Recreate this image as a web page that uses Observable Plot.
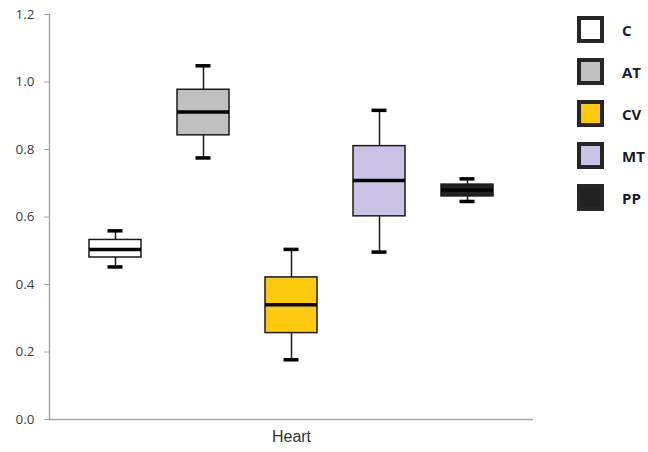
<!DOCTYPE html>
<html>
<head>
<meta charset="utf-8">
<script src="https://cdn.jsdelivr.net/npm/d3@7"></script>
<script src="https://cdn.jsdelivr.net/npm/@observablehq/plot@0.6"></script>
<style>
  html, body { margin: 0; padding: 0; background: #fff; }
  #wrap { position: relative; width: 648px; height: 452px; }
  #legend { position: absolute; left: 577px; top: 16px; display: flex; flex-direction: column; gap: 15px; }
  .item { display: flex; align-items: center; height: 27px; }
  .sw { width: 19px; height: 19px; border: 4px solid #262626; box-sizing: content-box; }
  .lab { margin-left: 18px; font: bold 15px "Open Sans", "Liberation Sans", sans-serif; color: #1a1a30; }
</style>
</head>
<body>
<div id="wrap"><div id="legend"></div></div>
<script>
const organ = "Heart";
const groups = ["C", "AT", "CV", "MT", "PP"];
const whiskerLow  = [0.452, 0.775, 0.177, 0.496, 0.646];
const q1          = [0.480, 0.842, 0.256, 0.602, 0.661];
const median      = [0.504, 0.911, 0.340, 0.708, 0.680];
const q3          = [0.532, 0.977, 0.421, 0.810, 0.696];
const whiskerHigh = [0.559, 1.048, 0.504, 0.916, 0.713];
const fills = ["#ffffff", "#c0c0c0", "#ffc90e", "#cbc3e6", "#222222"];
const yTicks = [0, 0.2, 0.4, 0.6, 0.8, 1.0, 1.2];

const data = groups.map((g, i) => ({
  organ, group: g,
  lo: whiskerLow[i], q1: q1[i], med: median[i], q3: q3[i], hi: whiskerHigh[i]
}));

const plot = Plot.plot({
  width: 648,
  height: 452,
  marginLeft: 49,
  marginRight: 115,
  marginTop: 14,
  marginBottom: 33,
  style: { fontFamily: "'Open Sans', 'Liberation Sans', sans-serif", background: "#fff" },
  fx: { domain: [organ], padding: 0, label: null },
  x: { domain: groups, paddingInner: 0.414, paddingOuter: 0.44, axis: null },
  y: { domain: [0, 1.2] },
  color: { domain: groups, range: fills },
  marks: [
    Plot.frame({ anchor: "left", stroke: "#a6a6a6", strokeWidth: 1.5 }),
    Plot.ruleY([0], { stroke: "#a6a6a6", strokeWidth: 1.5 }),
    Plot.axisY({ ticks: yTicks, tickFormat: d => d.toFixed(1), tickSize: 5, tickPadding: 10,
      stroke: "#a6a6a6", fill: "#3c3c3c", fontSize: 13.5, label: null }),
    Plot.axisFx({ anchor: "bottom", tickSize: 0, tickPadding: 11, fontSize: 16,
      fill: "#333", fontFamily: "'Liberation Sans', Arial, sans-serif", label: null }),
    Plot.ruleX(data, { fx: "organ", x: "group", y1: "lo", y2: "hi", stroke: "#1a1a1a", strokeWidth: 1.5 }),
    Plot.barY(data, { fx: "organ", x: "group", y1: "q1", y2: "q3", fill: "group", stroke: "#1a1a1a", strokeWidth: 1.5 }),
    Plot.tickY(data, { fx: "organ", x: "group", y: "med", stroke: "#000", strokeWidth: 3.5 }),
    Plot.tickY(data, { fx: "organ", x: "group", y: "lo", stroke: "#000", strokeWidth: 3.5, insetLeft: 18.5, insetRight: 18.5 }),
    Plot.tickY(data, { fx: "organ", x: "group", y: "hi", stroke: "#000", strokeWidth: 3.5, insetLeft: 18.5, insetRight: 18.5 })
  ]
});
document.getElementById("wrap").prepend(plot);

const legend = document.getElementById("legend");
groups.forEach((g, i) => {
  const item = document.createElement("div");
  item.className = "item";
  const sw = document.createElement("div");
  sw.className = "sw";
  sw.style.background = fills[i];
  const lab = document.createElement("span");
  lab.className = "lab";
  lab.textContent = g;
  item.append(sw, lab);
  legend.append(item);
});
</script>
</body>
</html>
